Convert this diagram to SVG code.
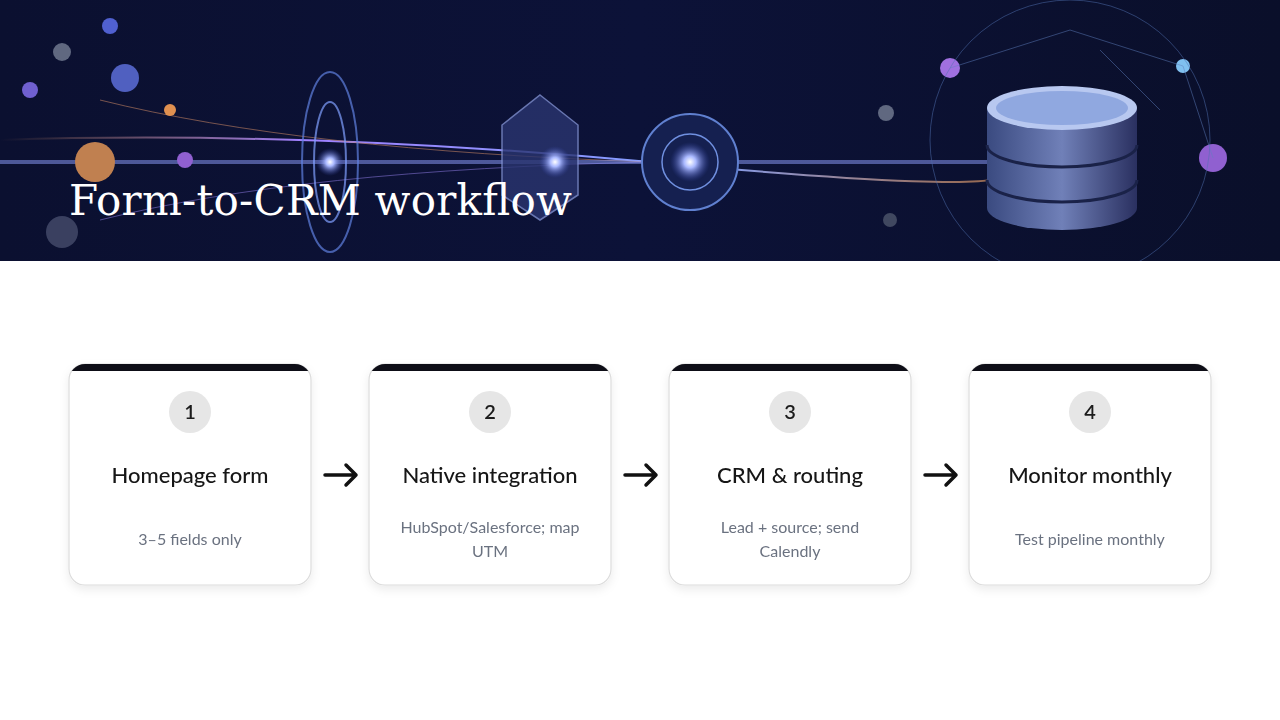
<svg xmlns="http://www.w3.org/2000/svg" width="1280" height="720" viewBox="0 0 1280 720">
<style>
.card{fill:#fff;stroke:#dcdcdc;stroke-width:1.2}
.num{font-family:Lato,"Noto Sans",sans-serif;font-size:20px;font-weight:600;fill:#1a1a1a;text-anchor:middle}
.ttl{font-family:Lato,"Noto Sans",sans-serif;font-size:22px;font-weight:500;fill:#151515;text-anchor:middle}
.sub{font-family:Lato,"Noto Sans",sans-serif;font-size:16px;fill:#6b7280;text-anchor:middle}
.arr{stroke:#111;stroke-width:3.5;fill:none;stroke-linecap:round;stroke-linejoin:round}
.glow{fill:url(#orb)}
</style>
<defs>
<linearGradient id="bg" x1="0" y1="0" x2="1" y2="0">
<stop offset="0" stop-color="#0b1030"/><stop offset="0.5" stop-color="#0c1238"/><stop offset="1" stop-color="#0a0f2a"/>
</linearGradient>
<linearGradient id="beam" x1="0" y1="0" x2="1" y2="0">
<stop offset="0" stop-color="#f0a060" stop-opacity="0"/><stop offset="0.3" stop-color="#a080ff"/><stop offset="0.7" stop-color="#80a0ff"/><stop offset="1" stop-color="#f0a060" stop-opacity="0.6"/>
</linearGradient>
<radialGradient id="orb"><stop offset="0" stop-color="#fff"/><stop offset="0.3" stop-color="#a9b8ff"/><stop offset="1" stop-color="#3040a0" stop-opacity="0"/></radialGradient>
<linearGradient id="cyl" x1="0" y1="0" x2="1" y2="0">
<stop offset="0" stop-color="#3a4a80"/><stop offset="0.5" stop-color="#7080b8"/><stop offset="1" stop-color="#2a3060"/>
</linearGradient>
<filter id="sh" x="-10%" y="-10%" width="120%" height="130%"><feDropShadow dx="0" dy="4" stdDeviation="5" flood-opacity="0.08"/></filter>
<clipPath id="cc"><rect x="0" y="0" width="242" height="221" rx="16"/></clipPath>
<clipPath id="bc"><rect width="1280" height="261"/></clipPath>
</defs>
<rect width="1280" height="720" fill="#fff"/>
<g id="banner" clip-path="url(#bc)">
<rect width="1280" height="261" fill="url(#bg)"/>
<path d="M0 140 Q300 130 650 162 T1000 175" stroke="url(#beam)" stroke-width="2" fill="none"/>
<path d="M100 100 Q300 150 650 162" stroke="#c08060" stroke-width="1" fill="none" opacity="0.6"/>
<path d="M100 220 Q300 170 650 162" stroke="#8070d0" stroke-width="1" fill="none" opacity="0.6"/>
<rect x="0" y="160" width="1000" height="4" fill="#8fa0ff" opacity="0.5"/>
<ellipse cx="330" cy="162" rx="28" ry="90" fill="none" stroke="#6080e0" stroke-width="2" opacity="0.7"/>
<ellipse cx="330" cy="162" rx="16" ry="60" fill="none" stroke="#80a0ff" stroke-width="2" opacity="0.7"/>
<polygon points="540,95 578,125 578,195 540,220 502,195 502,125" fill="#2a3570" stroke="#8090d0" stroke-width="1.5" opacity="0.8"/>
<circle cx="690" cy="162" r="48" fill="#152050" stroke="#6080d0" stroke-width="2"/>
<circle cx="690" cy="162" r="28" fill="none" stroke="#7090e0" stroke-width="1.5"/>
<circle cx="690" cy="162" r="20" class="glow"/>
<circle cx="555" cy="162" r="16" class="glow"/>
<circle cx="330" cy="162" r="14" class="glow"/>
<circle cx="95" cy="162" r="20" fill="#c08050"/>
<circle cx="125" cy="78" r="14" fill="#5060c0"/>
<circle cx="62" cy="232" r="16" fill="#3a4060"/>
<circle cx="30" cy="90" r="8" fill="#7060d0"/>
<circle cx="110" cy="26" r="8" fill="#5060d0"/>
<circle cx="62" cy="52" r="9" fill="#606880"/>
<circle cx="170" cy="110" r="6" fill="#e09050"/>
<circle cx="185" cy="160" r="8" fill="#9060d0"/>
<circle cx="950" cy="68" r="10" fill="#a070e0"/>
<circle cx="1213" cy="158" r="14" fill="#9060d0"/>
<circle cx="1183" cy="66" r="7" fill="#80c0f0"/>
<circle cx="886" cy="113" r="8" fill="#606880"/>
<circle cx="890" cy="220" r="7" fill="#404860"/>
<circle cx="1070" cy="140" r="140" fill="none" stroke="#5070b0" stroke-width="1" opacity="0.5"/>
<g stroke="#6080c0" stroke-width="0.8" opacity="0.6">
<line x1="950" y1="68" x2="1070" y2="30"/><line x1="1070" y1="30" x2="1183" y2="66"/><line x1="1183" y1="66" x2="1213" y2="158"/><line x1="1100" y1="50" x2="1160" y2="110"/>
</g>
<g id="db">
<path d="M987 108 v100 a75 22 0 0 0 150 0 v-100 z" fill="url(#cyl)"/>
<ellipse cx="1062" cy="108" rx="75" ry="22" fill="#b8c8f0"/>
<ellipse cx="1062" cy="108" rx="66" ry="17" fill="#90a8e0"/>
<path d="M987 145 a75 22 0 0 0 150 0" fill="none" stroke="#1a2248" stroke-width="3"/>
<path d="M987 180 a75 22 0 0 0 150 0" fill="none" stroke="#1a2248" stroke-width="3"/>
</g>
<text x="69" y="215" font-family="'DejaVu Serif','Liberation Serif',serif" font-size="42" fill="#fff" textLength="503">Form-to-CRM workflow</text>
</g>
<g id="node1" filter="url(#sh)" transform="translate(69,364)">
<rect class="card" width="242" height="221" rx="16"/>
<rect width="242" height="7" fill="#0a0a12" clip-path="url(#cc)"/>
<circle cx="121" cy="48" r="21" fill="#e6e6e6"/>
<text class="num" x="121" y="55">1</text>
<text class="ttl" x="121" y="119">Homepage form</text>
<text class="sub" x="121" y="181">3–5 fields only</text>
</g>
<g id="node2" filter="url(#sh)" transform="translate(369,364)">
<rect class="card" width="242" height="221" rx="16"/>
<rect width="242" height="7" fill="#0a0a12" clip-path="url(#cc)"/>
<circle cx="121" cy="48" r="21" fill="#e6e6e6"/>
<text class="num" x="121" y="55">2</text>
<text class="ttl" x="121" y="119">Native integration</text>
<text class="sub" x="121" y="169">HubSpot/Salesforce; map</text>
<text class="sub" x="121" y="193">UTM</text>
</g>
<g id="node3" filter="url(#sh)" transform="translate(669,364)">
<rect class="card" width="242" height="221" rx="16"/>
<rect width="242" height="7" fill="#0a0a12" clip-path="url(#cc)"/>
<circle cx="121" cy="48" r="21" fill="#e6e6e6"/>
<text class="num" x="121" y="55">3</text>
<text class="ttl" x="121" y="119">CRM &amp; routing</text>
<text class="sub" x="121" y="169">Lead + source; send</text>
<text class="sub" x="121" y="193">Calendly</text>
</g>
<g id="node4" filter="url(#sh)" transform="translate(969,364)">
<rect class="card" width="242" height="221" rx="16"/>
<rect width="242" height="7" fill="#0a0a12" clip-path="url(#cc)"/>
<circle cx="121" cy="48" r="21" fill="#e6e6e6"/>
<text class="num" x="121" y="55">4</text>
<text class="ttl" x="121" y="119">Monitor monthly</text>
<text class="sub" x="121" y="181">Test pipeline monthly</text>
</g>
<g id="connectors">
<path class="arr" d="M325 475 H356 M346 465 L356 475 L346 485"/>
<path class="arr" d="M625 475 H656 M646 465 L656 475 L646 485"/>
<path class="arr" d="M925 475 H956 M946 465 L956 475 L946 485"/>
</g>
</svg>
